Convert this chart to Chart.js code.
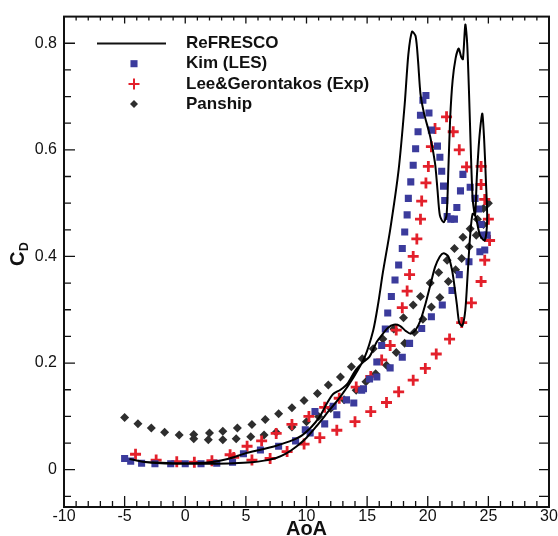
<!DOCTYPE html>
<html lang="en">
<head>
<meta charset="UTF-8">
<title>CD vs AoA</title>
<script src="https://cdn.jsdelivr.net/npm/chart.js@4"></script>
<style>
  html, body { margin: 0; padding: 0; background: #fff; }
</style>
</head>
<body>
<canvas id="myChart" width="558" height="536"></canvas>
<script>
  // axis ticks
  const xTicks = [-10, -5, 0, 5, 10, 15, 20, 25, 30];
  const yTicks = [0, 0.2, 0.4, 0.6, 0.8];

  // ReFRESCO (one closed loop, in drawing order)
  const refAoA = [-4.6, -3.5, -2, 0, 2, 4, 5.5, 6.5, 7.5, 8.3, 9.2, 10.0, 10.8, 11.9, 12.8, 13.9, 14.8, 15.5, 15.9, 16.3,
    16.9, 17.6, 18.1, 18.4, 18.7, 19.0, 19.2, 19.4, 19.7, 20.2, 20.6, 20.8, 21.0, 21.3, 21.55, 21.7, 21.85, 22.05, 22.3, 22.55,
    22.75, 22.9, 23.1, 23.25, 23.4, 23.55, 23.7, 23.9, 24.05, 24.2, 24.35, 24.5, 24.65, 24.8, 24.9, 24.7, 24.3, 23.95, 23.7, 23.5,
    23.3, 23.1, 22.85, 22.6, 22.4, 22.2, 22.0, 21.7, 21.3, 21.0, 20.6, 20.2, 19.8, 19.4, 19.0, 18.6, 18.2, 17.7, 17.2, 16.7,
    16.3, 15.8, 15.2, 14.6, 14.0, 13.4, 12.8, 12.2, 11.7, 11.1, 10.4, 9.6, 8.6, 7.5, 6.3, 5.0, 3.5, 2, 0, -2, -3.5, -4.6];
  const refCd = [0.02, 0.015, 0.012, 0.011, 0.011, 0.012, 0.014, 0.017, 0.022, 0.03, 0.044, 0.06, 0.081, 0.112, 0.137, 0.174, 0.211, 0.261, 0.31, 0.37,
    0.45, 0.563, 0.686, 0.779, 0.822, 0.813, 0.767, 0.705, 0.668, 0.625, 0.575, 0.526, 0.477, 0.464, 0.477, 0.563, 0.66, 0.73, 0.772, 0.79,
    0.775, 0.77, 0.835, 0.80, 0.71, 0.6, 0.51, 0.477, 0.55, 0.606, 0.645, 0.668, 0.62, 0.54, 0.47, 0.43, 0.44, 0.475, 0.48, 0.44,
    0.37, 0.3, 0.27, 0.275, 0.31, 0.345, 0.375, 0.4, 0.406, 0.4, 0.38, 0.345, 0.31, 0.28, 0.262, 0.255, 0.26, 0.27, 0.272, 0.266,
    0.255, 0.24, 0.212, 0.2, 0.185, 0.162, 0.15, 0.142, 0.125, 0.1, 0.08, 0.064, 0.053, 0.045, 0.038, 0.031, 0.02, 0.014, 0.012, 0.013, 0.015, 0.02];

  // Kim (LES)
  const kimAoA = [-5.0, -4.5, -3.6, -2.5, -1.2, 0.0, 1.3, 2.6, 3.9, 4.8, 6.2, 7.7, 9.1, 9.9, 10.7, 12.2, 13.3, 14.55, 15.2, 15.8,
    16.2, 16.5, 16.7, 17.0, 17.3, 17.6, 17.9, 18.1, 18.3, 18.4, 18.6, 18.8, 19.0, 19.2, 19.4, 19.6, 19.85, 20.1, 20.3, 20.8,
    21.0, 21.15, 21.3, 21.4, 21.6, 21.9, 22.2, 22.4, 22.7, 22.9, 23.5, 23.9, 24.2, 24.4, 24.6, 24.7, 24.9, 24.3, 23.4, 22.6,
    22.0, 21.2, 20.3, 19.5, 18.5, 17.9, 16.9, 15.8, 14.7, 13.9, 12.5, 11.5, 10.3];
  const kimCd = [0.021, 0.016, 0.012, 0.011, 0.011, 0.011, 0.011, 0.012, 0.014, 0.030, 0.037, 0.044, 0.054, 0.075, 0.109, 0.119, 0.131, 0.149, 0.17, 0.202,
    0.233, 0.264, 0.294, 0.325, 0.356, 0.384, 0.415, 0.446, 0.478, 0.509, 0.540, 0.571, 0.602, 0.634, 0.665, 0.693, 0.702, 0.669, 0.637, 0.607,
    0.586, 0.56, 0.532, 0.505, 0.475, 0.47, 0.47, 0.492, 0.523, 0.554, 0.53, 0.509, 0.489, 0.46, 0.44, 0.412, 0.44, 0.409, 0.39, 0.366,
    0.336, 0.309, 0.287, 0.265, 0.237, 0.211, 0.191, 0.174, 0.152, 0.125, 0.103, 0.086, 0.069];

  // Lee & Gerontakos (Exp)
  const leeAoA = [-4.1, -2.4, -0.7, 0.75, 2.2, 3.7, 5.1, 6.3, 7.5, 8.8, 10.2, 11.5, 12.7, 14.1, 15.3, 16.2, 16.9, 17.4, 17.9, 18.3,
    18.5, 18.8, 19.1, 19.4, 19.5, 19.85, 20.05, 20.3, 20.6, 21.55, 22.1, 22.6, 23.2, 24.4, 24.4, 24.7, 25.0, 25.1, 24.7, 24.4,
    23.6, 22.8, 21.8, 20.7, 19.8, 18.8, 17.6, 16.6, 15.3, 14.0, 12.5, 11.1, 9.8, 8.4, 7.0, 5.5, 4.0];
  const leeCd = [0.029, 0.018, 0.015, 0.014, 0.017, 0.028, 0.044, 0.054, 0.068, 0.085, 0.10, 0.117, 0.134, 0.155, 0.175, 0.206, 0.233, 0.262, 0.304, 0.335,
    0.366, 0.40, 0.433, 0.47, 0.504, 0.538, 0.569, 0.606, 0.64, 0.662, 0.634, 0.60, 0.568, 0.569, 0.535, 0.507, 0.47, 0.43, 0.393, 0.353,
    0.313, 0.276, 0.245, 0.217, 0.19, 0.168, 0.146, 0.126, 0.109, 0.09, 0.074, 0.06, 0.048, 0.034, 0.021, 0.018, 0.023];

  // Panship
  const panAoA = [-5, -3.9, -2.8, -1.7, -0.5, 0.7, 2.0, 3.1, 4.3, 5.5, 6.6, 7.7, 8.8, 9.8, 10.9, 11.8, 12.8, 13.7, 14.6, 15.5,
    16.3, 17.2, 18.0, 18.8, 19.4, 20.2, 20.9, 21.6, 22.2, 22.9, 23.5, 24.1, 24.6, 25.0,
    0.7, 1.9, 3.1, 4.2, 5.4, 6.5, 7.5, 8.8, 10.0, 11.0, 12.0, 13.1, 14.1, 14.9, 15.7, 16.6, 17.4, 18.1, 18.9, 19.6,
    20.3, 21.0, 21.7, 22.3, 22.8, 23.4, 24.0, 24.6];
  const panCd = [0.098, 0.086, 0.078, 0.070, 0.065, 0.066, 0.069, 0.072, 0.078, 0.085, 0.094, 0.105, 0.116, 0.130, 0.143, 0.159, 0.174, 0.193, 0.208, 0.227,
    0.245, 0.264, 0.285, 0.309, 0.325, 0.350, 0.370, 0.393, 0.415, 0.436, 0.452, 0.47, 0.49, 0.50,
    0.058, 0.056, 0.056, 0.058, 0.062, 0.065, 0.070, 0.080, 0.090, 0.100, 0.115, 0.131, 0.149, 0.165, 0.180, 0.196, 0.220, 0.237, 0.258, 0.282,
    0.305, 0.323, 0.353, 0.375, 0.396, 0.418, 0.44, 0.46];

  const blue = '#3b3b9c';
  const red = '#e3202b';
  const dark = '#2e2e2e';

  function pts(xs, ys) {
    return xs.map((v, i) => ({ x: v, y: ys[i] }));
  }

  // frame, inward ticks, legend and axis titles
  const framePlugin = {
    id: 'frame',
    afterDraw(chart) {
      const ctx = chart.ctx;
      const a = chart.chartArea;
      const sx = chart.scales.x;
      const sy = chart.scales.y;
      ctx.save();
      ctx.strokeStyle = '#111';
      ctx.lineWidth = 1.3;
      ctx.beginPath();
      for (let v = -10; v <= 30; v++) {
        const px = sx.getPixelForValue(v);
        const major = v % 5 === 0;
        ctx.moveTo(px, a.bottom);
        ctx.lineTo(px, a.bottom - (major ? 11 : 6));
        ctx.moveTo(px, a.top);
        ctx.lineTo(px, a.top + (major ? 7 : 4));
      }
      for (let i = -1; i <= 16; i++) {
        const py = sy.getPixelForValue(i * 0.05);
        const major = i % 4 === 0;
        ctx.moveTo(a.left, py);
        ctx.lineTo(a.left + (major ? 11 : 7), py);
        ctx.moveTo(a.right, py);
        ctx.lineTo(a.right - 10, py);
      }
      ctx.stroke();
      ctx.lineWidth = 2;
      ctx.strokeRect(a.left, a.top, a.right - a.left, a.bottom - a.top);

      // legend
      const lx = 134, tx = 186;
      const rows = [43.5, 63.7, 84, 104];
      ctx.font = 'bold 17px "Liberation Sans", Arial, sans-serif';
      ctx.textBaseline = 'middle';
      ctx.textAlign = 'left';
      ctx.fillStyle = '#111';
      ctx.lineWidth = 2;
      ctx.beginPath();
      ctx.moveTo(97, rows[0]);
      ctx.lineTo(166, rows[0]);
      ctx.stroke();
      const names = ['ReFRESCO', 'Kim (LES)', 'Lee&Gerontakos (Exp)', 'Panship'];
      names.forEach((n, i) => { ctx.fillText(n, tx, rows[i]); });
      ctx.fillStyle = blue;
      Chart.helpers.drawPoint(ctx, { pointStyle: 'rect', radius: 5, borderWidth: 0, rotation: 0 }, lx, rows[1]);
      ctx.strokeStyle = red;
      Chart.helpers.drawPoint(ctx, { pointStyle: 'cross', radius: 5.5, borderWidth: 2.8, rotation: 0 }, lx, rows[2]);
      ctx.fillStyle = dark;
      Chart.helpers.drawPoint(ctx, { pointStyle: 'rectRot', radius: 4, borderWidth: 0, rotation: 0 }, lx, rows[3]);

      // axis titles
      ctx.fillStyle = '#111';
      ctx.textAlign = 'center';
      ctx.font = 'bold 20px "Liberation Sans", Arial, sans-serif';
      ctx.fillText('AoA', (a.left + a.right) / 2, 529);
      ctx.translate(18, 266);
      ctx.rotate(-Math.PI / 2);
      ctx.textAlign = 'left';
      ctx.fillText('C', 0, 0);
      ctx.font = 'bold 12px "Liberation Sans", Arial, sans-serif';
      ctx.fillText('D', 15, 7);
      ctx.restore();
    }
  };

  const ctx = document.getElementById('myChart').getContext('2d');
  const myChart = new Chart(ctx, {
    type: 'scatter',
    data: {
      datasets: [
        {
          label: 'ReFRESCO',
          data: pts(refAoA, refCd),
          showLine: true,
          borderColor: '#000',
          borderWidth: 2,
          pointRadius: 0,
          tension: 0.25
        },
        {
          label: 'Kim (LES)',
          data: pts(kimAoA, kimCd),
          pointStyle: 'rect',
          pointRadius: 5,
          backgroundColor: blue,
          borderColor: blue,
          borderWidth: 0
        },
        {
          label: 'Lee&Gerontakos (Exp)',
          data: pts(leeAoA, leeCd),
          pointStyle: 'cross',
          pointRadius: 5.5,
          borderColor: red,
          backgroundColor: red,
          borderWidth: 2.8
        },
        {
          label: 'Panship',
          data: pts(panAoA, panCd),
          pointStyle: 'rectRot',
          pointRadius: 4.5,
          backgroundColor: dark,
          borderColor: dark,
          borderWidth: 0
        }
      ]
    },
    options: {
      responsive: false,
      animation: false,
      layout: { padding: { top: 13, right: 9, left: 0, bottom: 0 } },
      plugins: {
        legend: { display: false },
        tooltip: { enabled: false }
      },
      scales: {
        x: {
          type: 'linear',
          min: -10,
          max: 30,
          grid: { display: false, drawTicks: false },
          border: { display: false },
          afterBuildTicks: s => { s.ticks = xTicks.map(v => ({ value: v })); },
          afterFit: s => { s.height = 29; },
          ticks: {
            padding: 0,
            color: '#111',
            maxRotation: 0,
            autoSkip: false,
            font: { family: '"Liberation Sans", Arial, sans-serif', size: 16 }
          }
        },
        y: {
          type: 'linear',
          min: -0.07,
          max: 0.85,
          grid: { display: false, drawTicks: false },
          border: { display: false },
          afterBuildTicks: s => { s.ticks = yTicks.map(v => ({ value: v })); },
          afterFit: s => { s.width = 64; },
          ticks: {
            padding: 7,
            color: '#111',
            callback: v => String(v),
            font: { family: '"Liberation Sans", Arial, sans-serif', size: 16 }
          }
        }
      }
    },
    plugins: [framePlugin]
  });
</script>
</body>
</html>
